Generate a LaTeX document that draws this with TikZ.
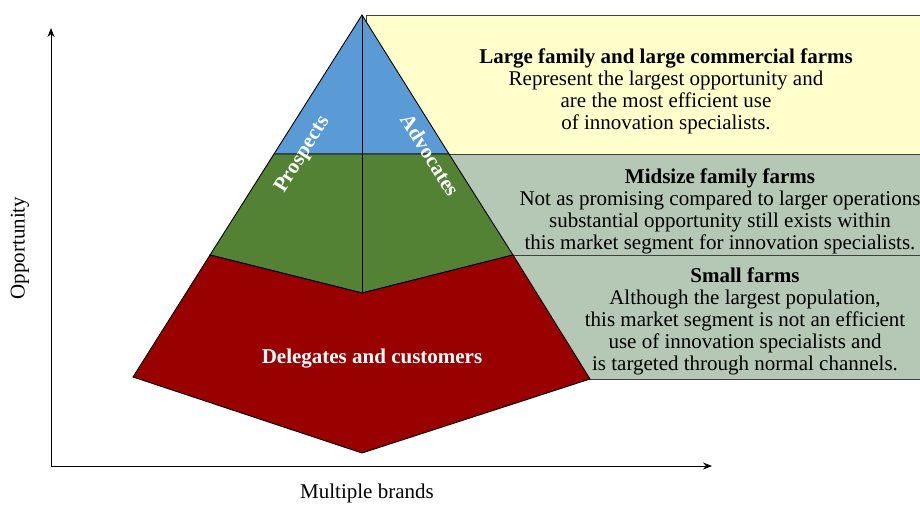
\documentclass[tikz,border=0pt]{standalone}
\usepackage{fontspec}
\setmainfont{Liberation Serif}
\usetikzlibrary{arrows.meta}
\definecolor{pblue}{HTML}{5B9BD5}
\definecolor{pgreen}{HTML}{548235}
\definecolor{pred}{HTML}{990000}
\definecolor{byellow}{HTML}{FFFFCC}
\definecolor{bgray}{HTML}{B5C7B5}
\tikzset{
  segbox/.style={draw=black!75, line width=1pt},
  pyr/.style={draw=black, line width=0.9pt, line join=miter},
  boxtext/.style={align=center, font=\fontsize{21}{22}\selectfont, text=black, inner sep=0pt},
  pyrtext/.style={font=\fontsize{21}{22}\selectfont\bfseries, text=white, inner sep=0pt},
  axis/.style={line width=0.9pt, -{Stealth[length=9pt,width=7pt]}},
  axlabel/.style={font=\fontsize{21}{22}\selectfont, inner sep=0pt}
}
\begin{document}
\begin{tikzpicture}[x=1pt,y=-1pt]
\useasboundingbox (0,0) rectangle (920,504);
% coordinates
\coordinate (apex) at (362,15);
\coordinate (bl) at (274,154);
\coordinate (br) at (449,154);
\coordinate (gl) at (210,255);
\coordinate (gr) at (513,255);
\coordinate (gv) at (362,293);
\coordinate (rl) at (133,377);
\coordinate (rr) at (590,379);
\coordinate (rb) at (362,453);
\coordinate (origin) at (51,466);
\coordinate (ytop) at (51,28);
\coordinate (xend) at (712,466);
% boxes
\fill[byellow] (366,15) rectangle (925,154);
\draw[segbox] (366,40) -- (366,15) -- (925,15);
\fill[bgray] (420,154) rectangle (925,255);
\fill[bgray] (480,255) rectangle (925,379);
\draw[segbox] (420,154) -- (925,154);
\draw[segbox] (480,255) -- (925,255);
\draw[segbox] (560,379) -- (925,379);
% pyramid
\filldraw[pyr, fill=pblue] (apex) -- (br) -- (bl) -- cycle;
\filldraw[pyr, fill=pgreen] (bl) -- (br) -- (gr) -- (gv) -- (gl) -- cycle;
\filldraw[pyr, fill=pred] (gl) -- (gv) -- (gr) -- (rr) -- (rb) -- (rl) -- cycle;
\draw[pyr] (apex) -- (gv);
% pyramid labels
\node[pyrtext, rotate=58] (prospects) at (303,155) {Prospects};
\node[pyrtext, rotate=-58] (advocates) at (430,155) {Advocates};
\node[pyrtext] (delegates) at (372,359) {Delegates and customers};
% box texts
\node[boxtext] (large) at (666,91) {\textbf{Large family and large commercial farms}\\Represent the largest opportunity and\\are the most efficient use\\of innovation specialists.};
\node[boxtext] (midsize) at (720,211) {\textbf{Midsize family farms}\\Not as promising compared to larger operations\\substantial opportunity still exists within\\this market segment for innovation specialists.};
\node[boxtext] (small) at (745,321) {\textbf{Small farms}\\Although the largest population,\\this market segment is not an efficient\\use of innovation specialists and\\is targeted through normal channels.};
% axes
\draw[axis] (origin) -- (ytop);
\draw[axis] (origin) -- (xend);
\node[axlabel, rotate=90] (ylab) at (20,248) {Opportunity};
\node[axlabel] (xlab) at (367,493) {Multiple brands};
\end{tikzpicture}
\end{document}
